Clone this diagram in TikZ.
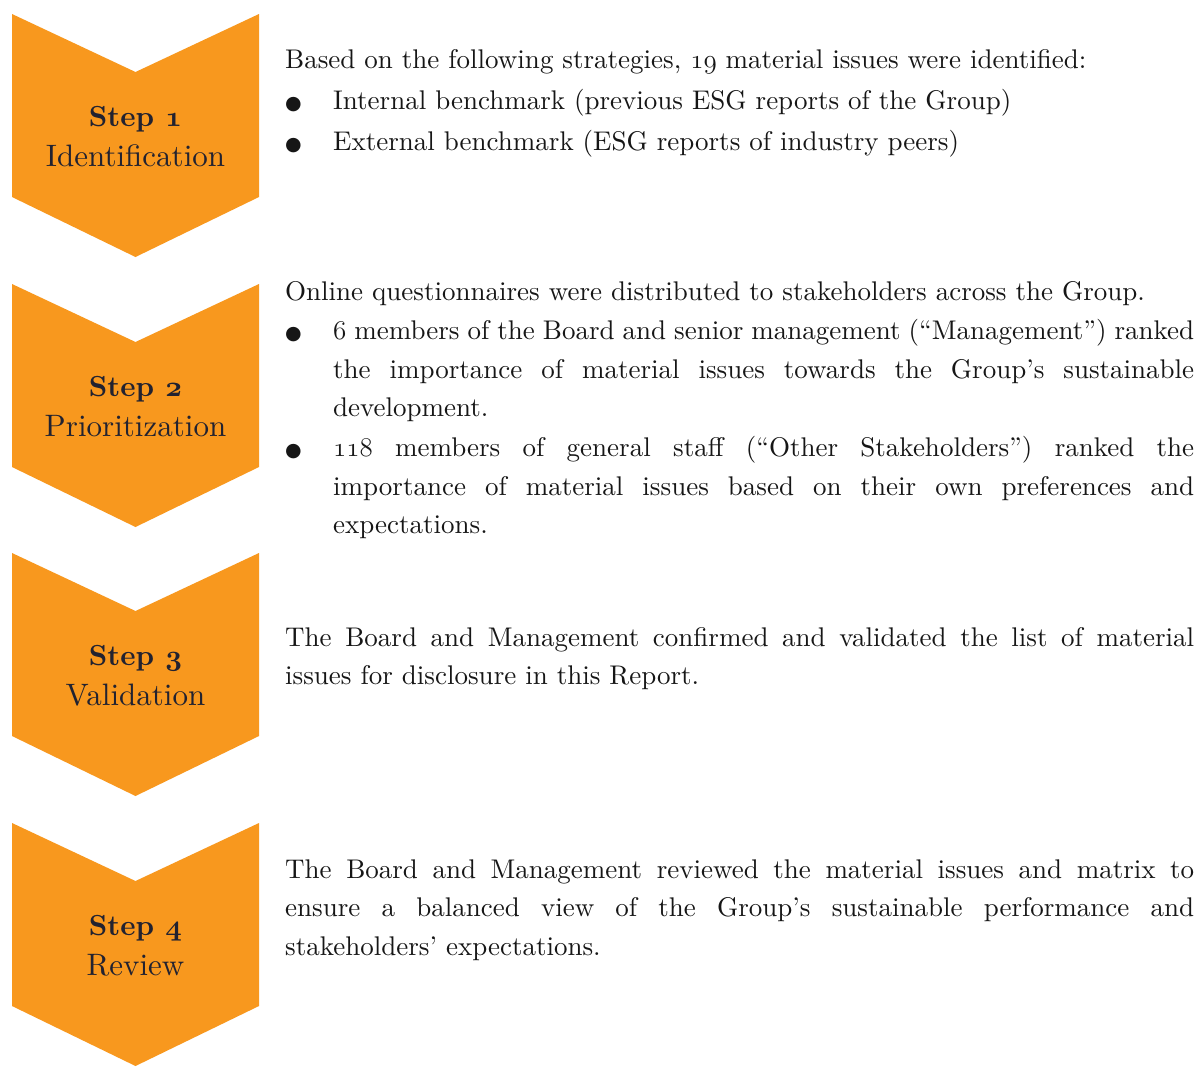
\RequirePackage{fix-cm}
\documentclass[tikz,border=0pt]{standalone}
\usepackage{fontspec}
\setmainfont{lmroman10-regular.otf}[BoldFont=lmroman10-bold.otf]
\newfontfamily\dejavu{DejaVu Sans}
\definecolor{orangeetape}{RGB}{248,152,30}
\definecolor{encre}{RGB}{34,34,48}
\definecolor{noirtexte}{RGB}{22,22,22}
\tolerance=9999
\hyphenpenalty=10000
\newcommand{\chiffres}[1]{$\mathnormal{#1}$}%chiffres elzeviriens
\newcommand{\puce}[1]{\par\hangindent=48pt\hangafter=1\noindent\makebox[48pt][l]{{\dejavu\fontsize{19}{0}\selectfont ●}}#1\par}
\begin{document}
\begin{tikzpicture}[x=1pt,y=-1pt]
\def\largeur{909pt}%largeur des paragraphes
\newcommand{\chevronetape}[1]{(12,#1) -- (135.5,#1+58) -- (259,#1) -- (259,#1+183) -- (135.5,#1+243) -- (12,#1+183) -- cycle}%chevron
\tikzset{etape/.style={align=center,text=encre,font=\fontsize{31}{40}\selectfont,anchor=base,inner sep=0pt},
texte/.style={text width=\largeur,align=justify,anchor=base west,inner sep=0pt,text=noirtexte,
font=\fontsize{27}{38.4}\selectfont}}
\useasboundingbox (0,0) rectangle (1199,1066);
\fill[white] (0,0) rectangle (1199,1066);%fond blanc
\fill[orangeetape]\chevronetape{14};%etape 1
\fill[orangeetape]\chevronetape{284};%etape 2
\fill[orangeetape]\chevronetape{553};%etape 3
\fill[orangeetape]\chevronetape{823};%etape 4
\node[etape] (etape1) at (135.5,166) {{\fontsize{29}{40}\selectfont\bfseries\boldmath Step \chiffres{1}}\\Identification};
\node[etape] (etape2) at (135.5,436) {{\fontsize{29}{40}\selectfont\bfseries\boldmath Step \chiffres{2}}\\Prioritization};
\node[etape] (etape3) at (135.5,705) {{\fontsize{29}{40}\selectfont\bfseries\boldmath Step \chiffres{3}}\\Validation};
\node[etape] (etape4) at (135.5,975) {{\fontsize{29}{40}\selectfont\bfseries\boldmath Step \chiffres{4}}\\Review};
\node[texte] (texte1) at (285,68) {\setlength{\parskip}{3pt}Based on the following strategies, \chiffres{19} material issues were identified:
\puce{Internal benchmark (previous ESG reports of the Group)}
\puce{External benchmark (ESG reports of industry peers)}};
\node[texte] (texte2) at (285,300) {\setlength{\parskip}{1.5pt}Online questionnaires were distributed to stakeholders across the Group.
\puce{\chiffres{6} members of the Board and senior management (“Management”) ranked\linebreak the importance of material issues towards the Group’s sustainable\linebreak development.}
\puce{\chiffres{118} members of general staff (“Other Stakeholders”) ranked the\linebreak importance of material issues based on their own preferences and\linebreak expectations.}};
\node[texte] (texte3) at (285,646.5) {The Board and Management confirmed and validated the list of material\linebreak issues for disclosure in this Report.};
\node[texte] (texte4) at (285,878.5) {The Board and Management reviewed the material issues and matrix to\linebreak ensure a balanced view of the Group’s sustainable performance and\linebreak stakeholders’ expectations.};
\end{tikzpicture}
\end{document}
